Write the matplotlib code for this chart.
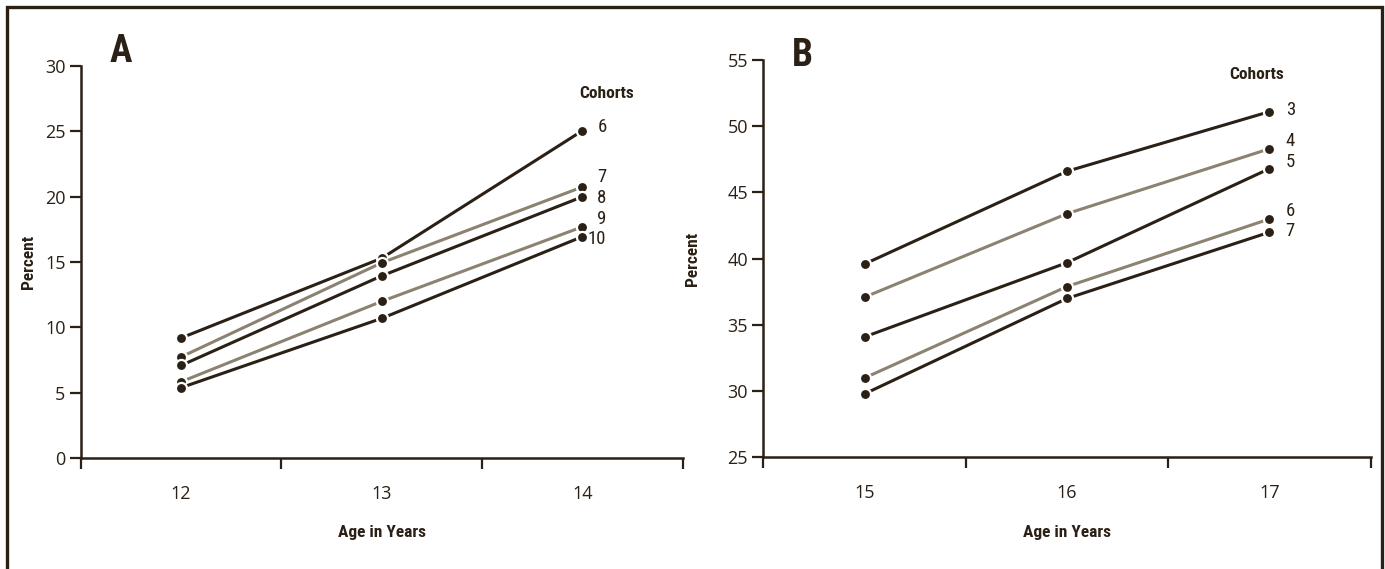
#!/usr/bin/env python3
"""Cohort percent by age, panels A and B"""

import matplotlib
matplotlib.use("Agg")
import matplotlib.pyplot as plt
from matplotlib import font_manager
from matplotlib.patches import Rectangle

# panel A: ages 12-14, cohorts 6-10
ages_a = [12, 13, 14]
cohorts_a = ["6", "7", "8", "9", "10"]
values_a = [
    [9.2, 15.3, 25.05],
    [7.75, 14.95, 20.75],
    [7.1, 13.95, 20.0],
    [5.85, 12.0, 17.7],
    [5.4, 10.7, 16.95],
]
label_y_a = [25.3, 21.5, 19.9, 18.3, 16.8]

# panel B: ages 15-17, cohorts 3-7
ages_b = [15, 16, 17]
cohorts_b = ["3", "4", "5", "6", "7"]
values_b = [
    [39.6, 46.6, 51.1],
    [37.1, 43.4, 48.3],
    [34.1, 39.7, 46.8],
    [31.0, 37.9, 43.0],
    [29.8, 37.0, 42.0],
]
label_y_b = [51.2, 48.9, 47.3, 43.6, 42.1]

DARK = "#2b2015"
GREY = "#8c8272"
line_colors = [DARK, GREY, DARK, GREY, DARK]

names = {f.name for f in font_manager.fontManager.ttflist}
cond = "DejaVu Sans"
for cand in ["Liberation Sans Narrow", "DejaVu Sans Condensed", "Roboto Condensed", "Open Sans Condensed"]:
    if cand in names:
        cond = cand
        break
tick_font = "Open Sans" if "Open Sans" in names else "DejaVu Sans"

fig = plt.figure(figsize=(13.85, 5.69), dpi=100)

# outer frame (bottom edge runs off the picture)
fig.patches.append(Rectangle((7 / 1385, -0.1), 1375 / 1385, 1.1 - 7 / 569,
                             transform=fig.transFigure, fill=False,
                             edgecolor=DARK, linewidth=2.4, clip_on=False))


def panel(rect, ages, values, cohorts, label_y, ylim, letter, letter_pos,
          head_pos, label_x, label_ha, ylab_x):
    ax = fig.add_axes(rect)
    for vals, c in zip(values, line_colors):
        ax.plot(ages, vals, color=c, linewidth=2.2, marker="o", markersize=8,
                markerfacecolor=DARK, markeredgecolor="white", markeredgewidth=1.6,
                clip_on=False)
    for lab, y in zip(cohorts, label_y):
        ax.text(label_x, y, lab, ha=label_ha, va="center", fontsize=13.5,
                family=cond, color=DARK)
    ax.text(head_pos[0], head_pos[1], "Cohorts", ha="center", va="center",
            fontsize=12.5, fontweight="bold", family=cond, color=DARK)
    ax.text(letter_pos[0], letter_pos[1], letter, transform=ax.transAxes,
            ha="center", va="center", fontsize=27, fontweight="bold",
            family=cond, color=DARK)

    ax.set_xlim(ages[0] - 0.5, ages[-1] + 0.5)
    ax.set_ylim(*ylim)
    ax.set_yticks(range(ylim[0], ylim[1] + 1, 5))
    ax.set_xticks([a - 0.5 for a in ages] + [ages[-1] + 0.5])
    ax.set_xticklabels([])
    ax.set_xticks(ages, minor=True)
    ax.set_xticklabels([str(a) for a in ages], minor=True)
    ax.tick_params(axis="x", which="major", direction="out", length=8, width=1.6, color=DARK)
    ax.tick_params(axis="x", which="minor", length=0, pad=19, labelsize=13, labelcolor=DARK)
    ax.tick_params(axis="y", direction="out", length=8, width=1.6, color=DARK,
                   pad=3, labelsize=13, labelcolor=DARK)
    for t in ax.get_xticklabels(minor=True) + ax.get_yticklabels():
        t.set_family(tick_font)

    for s in ["top", "right"]:
        ax.spines[s].set_visible(False)
    for s in ["left", "bottom"]:
        ax.spines[s].set_color(DARK)
        ax.spines[s].set_linewidth(1.8)

    ax.set_xlabel("Age in Years", fontsize=12.5, fontweight="bold", family=cond,
                  color=DARK, va="center")
    ax.xaxis.set_label_coords(0.5, -0.188)
    ax.set_ylabel("Percent", fontsize=12.5, fontweight="bold", family=cond,
                  color=DARK, va="center")
    ax.yaxis.set_label_coords(ylab_x, 0.5)
    return ax


panel([0.0583, 0.1946, 0.4347, 0.6895], ages_a, values_a, cohorts_a, label_y_a,
      (0, 30), "A", (0.067, 1.038), (14.118, 27.93), 14.12, "right", -0.0875)
panel([0.5511, 0.1960, 0.4386, 0.6986], ages_b, values_b, cohorts_b, label_y_b,
      (25, 55), "B", (0.065, 1.01), (16.938, 53.87), 17.08, "left", -0.1157)

fig.savefig("out.png", dpi=100)
